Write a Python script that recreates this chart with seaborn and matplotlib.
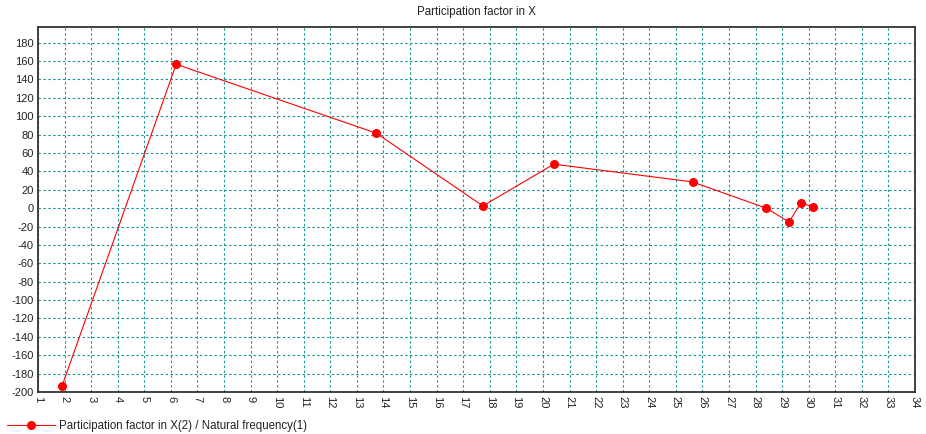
import matplotlib
matplotlib.use("Agg")
import matplotlib.pyplot as plt
import seaborn as sns
import pandas as pd

natural_frequency = [1.91, 6.20, 13.73, 17.74, 20.41, 25.63, 28.40, 29.26, 29.71, 30.16]
participation_x = [-193.0, 156.5, 81.5, 2.4, 47.8, 28.5, 0.0, -15.0, 6.0, 1.0]
x_ticks = list(range(1, 35))
y_ticks = list(range(-200, 181, 20))
title = "Participation factor in X"
series_label = "Participation factor in X(2) / Natural frequency(1)"

sns.set_style("white")
plt.rcParams["font.family"] = ["Liberation Sans", "DejaVu Sans"]

df = pd.DataFrame({"freq": natural_frequency, "pf": participation_x})

fig = plt.figure(figsize=(9.26, 4.34), dpi=100)
ax = fig.add_axes([38 / 926, 1 - 392 / 434, (915 - 38) / 926, (392 - 27) / 434])

grid_color = "#1a9696"
for xv in x_ticks:
    ax.axvline(xv, color=grid_color, lw=0.8, ls=(0, (2.2, 2.2)), zorder=0)
for yv in y_ticks:
    ax.axhline(yv, color=grid_color, lw=0.8, ls=(0, (2.2, 2.2)), zorder=0)

sns.lineplot(data=df, x="freq", y="pf", sort=False, ax=ax, color="#ff0000",
             lw=0.8, marker="o", markersize=6.5, markeredgewidth=0,
             markerfacecolor="#ff0000", label=series_label, zorder=3)

ax.set_xlim(1, 34)
ax.set_ylim(-200, 197)
ax.set_xticks(x_ticks)
ax.set_yticks(y_ticks)
ax.set_xticklabels([str(t) for t in x_ticks], rotation=270, fontsize=8, color="#222222")
ax.set_yticklabels([str(t) for t in y_ticks], fontsize=8, color="#222222")
ax.tick_params(axis="both", direction="in", length=3, width=1, color="#3050c0", pad=3)
ax.set_xlabel("")
ax.set_ylabel("")
for s in ax.spines.values():
    s.set_color("#333333")
    s.set_linewidth(1.3)
    s.set_visible(True)

fig.text((38 + 915) / 2 / 926, 1 - 12 / 434, title, ha="center", va="center",
         fontsize=8.3, color="#222222")

ax.legend_.remove()
handles, labels = ax.get_legend_handles_labels()
fig.legend(handles, labels, loc="center left", bbox_to_anchor=(0.0, 1 - 426 / 434),
           frameon=False, fontsize=8.3, handlelength=4.2, handletextpad=0.3,
           borderaxespad=0.2, labelcolor="#222222")

fig.savefig("out.png", dpi=100)
